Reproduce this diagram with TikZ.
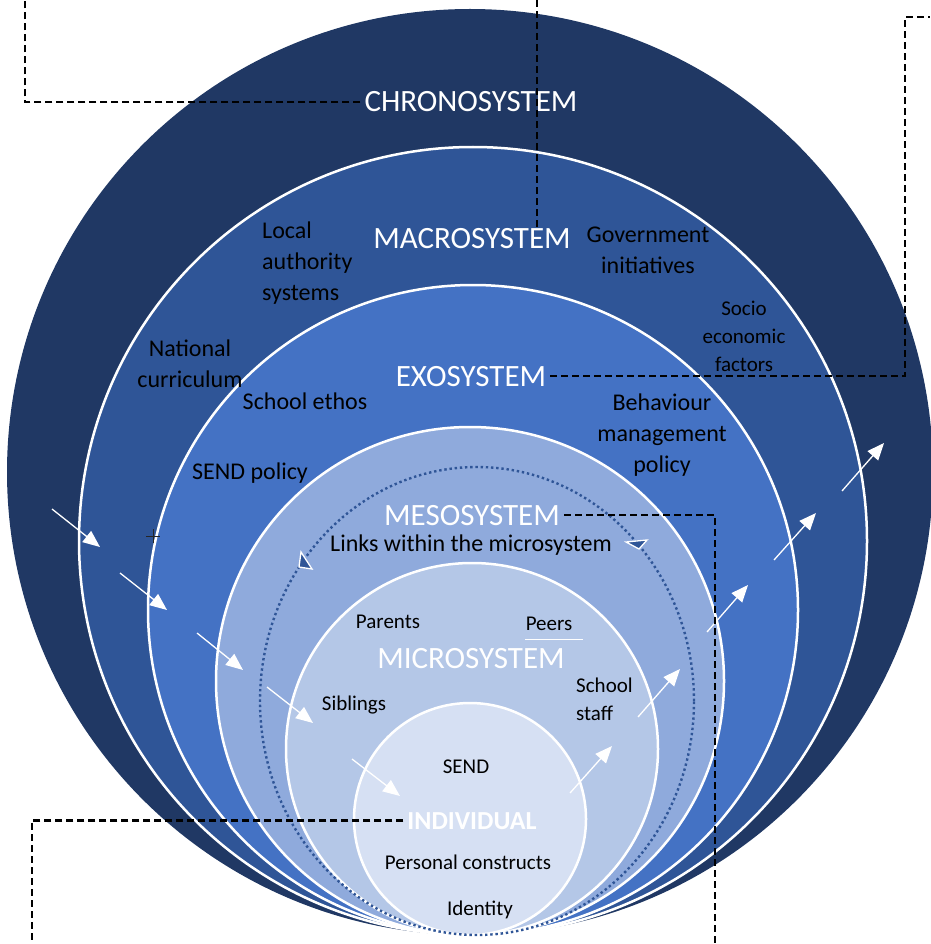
\documentclass[tikz,border=0pt]{standalone}
\usepackage{fontspec}
\setmainfont{Carlito}
\usetikzlibrary{arrows.meta}

\definecolor{chronoBlue}{HTML}{203864}
\definecolor{macroBlue}{HTML}{2F5597}
\definecolor{exoBlue}{HTML}{4472C4}
\definecolor{mesoBlue}{HTML}{8FAADC}
\definecolor{microBlue}{HTML}{B4C7E7}
\definecolor{indivBlue}{HTML}{D6E0F3}
\definecolor{linkBlue}{HTML}{2F5597}

\begin{document}
\begin{tikzpicture}[x=1pt,y=-1pt,
  ring/.style={draw=white,line width=2.5pt},
  flow/.style={draw=white,line width=1.3pt,-{Triangle[length=17pt,width=14pt]}},
  leader/.style={draw=black,line width=2.4pt,dash pattern=on 7pt off 4pt},
  sysname/.style={text=white,inner xsep=4pt,inner ysep=1pt,anchor=base,font=\fontsize{31}{31}\selectfont},
  outerlbl/.style={text=black,inner sep=0pt,anchor=base,align=center,font=\fontsize{24}{31}\selectfont},
  innerlbl/.style={text=black,inner sep=0pt,anchor=base,align=center,font=\fontsize{21}{28}\selectfont},
  linkhead/.style={draw=white,line width=1.3pt,fill=linkBlue,line join=miter}
]
\useasboundingbox (0,0) rectangle (930,944);

% nested systems, all touching at the bottom
\fill[chronoBlue] (470,472) circle[radius=463pt];
\draw[ring,fill=macroBlue] (473,541) circle[radius=394pt];
\draw[ring,fill=exoBlue] (473,610) circle[radius=325pt];
\draw[ring,fill=mesoBlue] (470,681) circle[radius=254pt];
\draw[ring,fill=microBlue] (472,749) circle[radius=186pt];
\draw[ring,fill=indivBlue] (470,819) circle[radius=116pt];

% links within the microsystem
\draw[linkBlue,line width=2.4pt,dash pattern=on 2.4pt off 2.8pt] (477,701) ellipse[x radius=217pt,y radius=234pt];
\draw[linkhead] (301,552) -- (299,567) -- (312,569) -- cycle;
\draw[linkhead] (626,542) -- (647,540) -- (639,549) -- cycle;

% small cross mark
\draw[black!85,line width=0.8pt] (146,536) -- (160,536) (153,529) -- (153,543);

% system names
\node[sysname] (chronoLabel) at (471,112) {CHRONOSYSTEM};
\node[sysname] (macroLabel) at (472,248) {MACROSYSTEM};
\node[sysname] (exoLabel) at (471,386) {EXOSYSTEM};
\node[sysname] (mesoLabel) at (472,525) {MESOSYSTEM};
\node[sysname] (microLabel) at (471,668) {MICROSYSTEM};
\node[sysname,font=\fontsize{26}{26}\selectfont\bfseries] (indivLabel) at (472,829) {INDIVIDUAL};

% factors in each system (multi-line labels sit on their last baseline)
\node[outerlbl,align=left,anchor=base west] (localAuth) at (262,300) {Local\\authority\\systems};
\node[outerlbl] (govInit) at (648,273) {Government\\initiatives};
\node[innerlbl] (socioEcon) at (744,371) {Socio\\economic\\factors};
\node[outerlbl] (natCurr) at (190,387) {National\\curriculum};
\node[outerlbl] (schoolEthos) at (305,409) {School ethos};
\node[outerlbl] (sendPolicy) at (250,479) {SEND policy};
\node[outerlbl] (behaviour) at (662,472) {Behaviour\\management\\policy};
\node[outerlbl] (linksMicro) at (471,551) {Links within the microsystem};
\node[innerlbl] (parents) at (388,628) {Parents};
\node[innerlbl] (peers) at (549,630) {Peers};
\node[innerlbl] (siblings) at (354,710) {Siblings};
\node[innerlbl,align=left,anchor=base west] (schoolStaff) at (576,720) {School\\staff};
\node[innerlbl] (sendInd) at (466,773) {SEND};
\node[innerlbl] (personal) at (468,869) {Personal constructs};
\node[innerlbl] (identity) at (480,915) {Identity};
\draw[white,line width=1pt] (525,639) -- (583,639);

% influences flowing inwards
\coordinate (inA1) at (52,509);  \coordinate (inA2) at (100,547);
\coordinate (inB1) at (120,573); \coordinate (inB2) at (167,610);
\coordinate (inC1) at (197,633); \coordinate (inC2) at (243,670);
\coordinate (inD1) at (267,687); \coordinate (inD2) at (313,723);
\coordinate (inE1) at (352,759); \coordinate (inE2) at (400,796);
\foreach \k in {A,B,C,D,E} \draw[flow] (in\k1) -- (in\k2);

% influences flowing outwards
\coordinate (outA1) at (570,793); \coordinate (outA2) at (612,746);
\coordinate (outB1) at (638,717); \coordinate (outB2) at (680,669);
\coordinate (outC1) at (707,632); \coordinate (outC2) at (748,585);
\coordinate (outD1) at (774,560); \coordinate (outD2) at (816,513);
\coordinate (outE1) at (842,491); \coordinate (outE2) at (884,443);
\foreach \k in {A,B,C,D,E} \draw[flow] (out\k1) -- (out\k2);

% dashed leaders to the page edges
\coordinate (chronoEnd) at (25,0);
\coordinate (macroEnd) at (537,0);
\coordinate (exoCorner) at (905,17);
\coordinate (exoEnd) at (930,17);
\coordinate (mesoEnd) at (715,944);
\coordinate (indivEnd) at (32,944);
\draw[leader] (chronoLabel.west) -| (chronoEnd);
\draw[leader] (macroLabel.north -| macroEnd) -- (macroEnd);
\draw[leader] (exoLabel.east) -| (exoCorner) -- (exoEnd);
\draw[leader] (mesoLabel.east) -| (mesoEnd);
\draw[leader] (indivLabel.west) -| (indivEnd);
\end{tikzpicture}
\end{document}
